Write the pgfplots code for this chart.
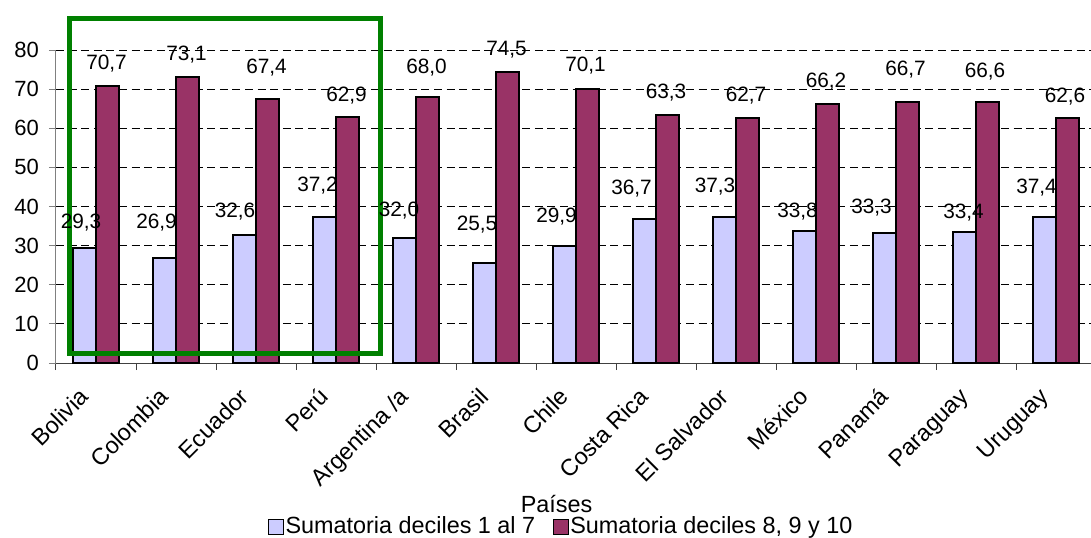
\documentclass[border=0pt]{standalone}
\usepackage{fontspec}
\setmainfont{Liberation Sans}
\usepackage{pgfplots}
\usepackage{pgfplotstable}
\pgfplotsset{compat=1.18}
\pgfplotsset{/pgf/number format/assume math mode=true}
\definecolor{lowc}{RGB}{204,204,255}
\definecolor{highc}{RGB}{153,51,102}
\definecolor{boxgreen}{RGB}{0,128,0}
\pgfplotsset{
  sqlegend/.style={legend image code/.code={\draw[##1,line width=0.6pt,draw=black] (0pt,-3.7pt) rectangle (7.4pt,3.7pt);}},
  barlabels/.style={
    visualization depends on={\thisrow{dx} \as \labdx},
    visualization depends on={\thisrow{dy} \as \labdy},
    nodes near coords={\pgfmathprintnumber[fixed,fixed zerofill,precision=1,use comma]{\pgfplotspointmeta}},
    every node near coord/.append style={font=\fontsize{10.4}{12}\selectfont, inner sep=0pt, text depth=0pt, anchor=south, xshift=\labdx pt + #1, yshift=\labdy pt - 3.7pt}
  }
}

% x = category index, y = value, dx/dy = label offset in pt
\pgfplotstableread{
x y dx dy
0 29.3 -1.75 13.5
1 26.9 -4 18
2 32.6 -4.75 12.25
3 37.2 -3.5 16.25
4 32.0 -2.75 14
5 25.5 -3.75 20
6 29.9 -4 15.5
7 36.7 -6.5 16
8 37.3 -4.75 16
9 33.8 -3.5 10
10 33.3 -6.5 13.35
11 33.4 -0.5 10.5
12 37.4 -4 15
}\lowtab

\pgfplotstableread{
x y dx dy
0 70.7 -0.5 11.8
1 73.1 -0.5 11.85
2 67.4 -0.5 16.5
3 62.9 -0.5 11
4 68.0 -0.5 15
5 74.5 -0.5 11.5
6 70.1 -1 12
7 63.3 -0.75 12
8 62.7 -0.75 11.7
9 66.2 -0.75 12
10 66.7 -1 16.85
11 66.6 -1.25 16.2
12 62.6 -1.25 11.5
}\hightab

\begin{document}
\begin{tikzpicture}
\useasboundingbox (-28pt,-87pt) rectangle (517.5pt,181.5pt);
\begin{axis}[
  scale only axis, width=520pt, height=156.5pt,
  xmin=-0.5, xmax=12.5, ymin=0, ymax=80,
  clip=false,
  axis x line*=bottom, axis y line*=left,
  x axis line style={draw=black!75, line width=0.5pt},
  y axis line style={draw=gray, line width=0.5pt},
  tick align=outside, major tick length=3.5pt,
  xtick={-0.5,0.5,...,12.5},
  xticklabels={Bolivia,Colombia,Ecuador,Perú,Argentina /a,Brasil,Chile,Costa Rica,El Salvador,México,Panamá,Paraguay,Uruguay,{}},
  xtick style={draw=black!75, line width=0.5pt},
  ytick style={draw=gray, line width=0.5pt},
  xticklabel style={font=\fontsize{11.7}{14}\selectfont, inner sep=0pt, xshift=11pt, yshift=-8pt, rotate=45, anchor=north east},
  ytick={0,10,...,80},
  yticklabel style={font=\fontsize{11}{13}\selectfont, xshift=-1.5pt},
  ymajorgrids,
  major grid style={draw=black, line width=0.5pt, dash pattern=on 4pt off 2.3pt},
  xlabel={Países},
  xlabel style={at={(axis description cs:0.4813,-0.479)}, anchor=base, font=\fontsize{11.7}{14}\selectfont, inner sep=0pt},
  legend style={at={(0.4856,-0.524)}, anchor=center, draw=none, fill=none,
    font=\fontsize{11.7}{13}\selectfont, nodes={inner sep=0.75pt},
    /tikz/every even column/.append style={column sep=8pt}},
  legend columns=-1,
]
\addplot[ybar, bar width=11.5pt, bar shift=-5.75pt, fill=lowc, draw=black, line width=1pt, sqlegend] table[x=x,y=y]{\lowtab};
\addplot[ybar, bar width=11.5pt, bar shift=5.75pt, fill=highc, draw=black, line width=1pt, sqlegend] table[x=x,y=y]{\hightab};
\addplot[ybar, bar width=11.5pt, bar shift=-5.75pt, draw=none, fill=none, forget plot, barlabels=-5.75pt] table[x=x,y=y]{\lowtab};
\addplot[ybar, bar width=11.5pt, bar shift=5.75pt, draw=none, fill=none, forget plot, barlabels=5.75pt] table[x=x,y=y]{\hightab};
\legend{Sumatoria deciles 1 al 7, {Sumatoria deciles 8, 9 y 10}}
\draw[boxgreen, line width=2.5pt] (axis cs:-0.329,2.556) rectangle (axis cs:3.56,88.18);
\end{axis}
\end{tikzpicture}
\end{document}
